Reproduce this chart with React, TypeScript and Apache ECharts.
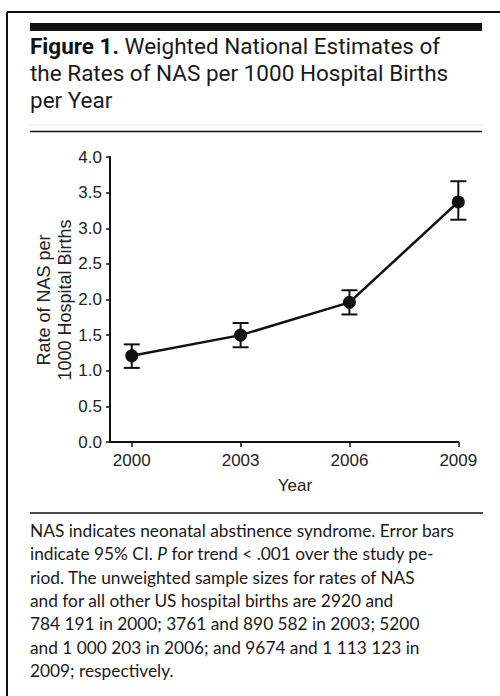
import React, { useEffect, useRef } from "react";
import * as echarts from "echarts";

const years = [2000, 2003, 2006, 2009];
const rates = [1.21, 1.5, 1.96, 3.37];
const ciLow = [1.04, 1.33, 1.79, 3.12];
const ciHigh = [1.37, 1.67, 2.13, 3.66];
const xTicks = [2000, 2003, 2006, 2009];
const yTitleLines = ["Rate of NAS per", "1000 Hospital Births"];

const titleText =
  "{b|Figure 1.} Weighted National Estimates of\nthe Rates of NAS per 1000 Hospital Births\nper Year";
const captionLines = [
  "NAS indicates neonatal abstinence syndrome. Error bars",
  "indicate 95% CI. {i|P} for trend < .001 over the study pe-",
  "riod. The unweighted sample sizes for rates of NAS",
  "and for all other US hospital births are 2920 and",
  "784 191 in 2000; 3761 and 890 582 in 2003; 5200",
  "and 1 000 203 in 2006; and 9674 and 1 113 123 in",
  "2009; respectively.",
];

const titleFont = "Roboto, Lato, sans-serif";
const captionFont = "Lato, 'Open Sans', sans-serif";
const axisFont = "'Liberation Sans', Arial, sans-serif";

export default function App() {
  const ref = useRef<HTMLDivElement>(null);
  useEffect(() => {
    if (!ref.current) return;
    const chart = echarts.init(ref.current, null, { renderer: "svg" });
    const pointData = years.map((y, i) => [y, rates[i]]);
    const errData = years.map((y, i) => [y, ciLow[i], ciHigh[i]]);
    const yTitleX = [44, 65];
    const option: any = {
      animation: false,
      backgroundColor: "#ffffff",
      grid: {
        left: 110,
        right: 41.7,
        top: 157,
        bottom: 254,
        containLabel: false,
        outerBoundsMode: "none",
      },
      xAxis: {
        type: "value",
        min: 1999.4,
        max: 2009,
        axisLine: { show: true, lineStyle: { color: "#111", width: 2 } },
        axisTick: {
          show: true,
          customValues: xTicks,
          length: 5,
          lineStyle: { color: "#111", width: 1.5 },
        },
        axisLabel: {
          customValues: xTicks,
          fontSize: 17,
          color: "#222",
          fontFamily: axisFont,
          margin: 10,
          formatter: (v: number) => String(Math.round(v)),
        },
        splitLine: { show: false },
      },
      yAxis: {
        type: "value",
        min: 0,
        max: 4,
        interval: 0.5,
        axisLine: { show: true, lineStyle: { color: "#111", width: 2 } },
        axisTick: { show: true, length: 4, lineStyle: { color: "#111", width: 1.5 } },
        axisLabel: {
          fontSize: 17,
          color: "#222",
          fontFamily: axisFont,
          margin: 8,
          formatter: (v: number) => v.toFixed(1),
        },
        splitLine: { show: false },
      },
      series: [
        {
          type: "custom",
          data: errData,
          renderItem: (params: any, api: any) => {
            const x = api.value(0);
            const lo = api.coord([x, api.value(1)]);
            const hi = api.coord([x, api.value(2)]);
            const hw = 8;
            const style = { stroke: "#111", lineWidth: 2 };
            return {
              type: "group",
              children: [
                { type: "line", shape: { x1: lo[0], y1: lo[1], x2: hi[0], y2: hi[1] }, style },
                { type: "line", shape: { x1: lo[0] - hw, y1: lo[1], x2: lo[0] + hw, y2: lo[1] }, style },
                { type: "line", shape: { x1: hi[0] - hw, y1: hi[1], x2: hi[0] + hw, y2: hi[1] }, style },
              ],
            };
          },
          z: 2,
        },
        {
          type: "line",
          data: pointData,
          symbol: "circle",
          symbolSize: 13,
          itemStyle: { color: "#111" },
          lineStyle: { color: "#111", width: 2.5 },
          z: 3,
        },
      ],
      graphic: [
        { type: "line", shape: { x1: 7, y1: 12, x2: 500, y2: 12 }, style: { stroke: "#111", lineWidth: 2 } },
        { type: "line", shape: { x1: 7, y1: 12, x2: 7, y2: 696 }, style: { stroke: "#111", lineWidth: 2 } },
        { type: "rect", shape: { x: 30, y: 23, width: 452, height: 8 }, style: { fill: "#111" } },
        {
          type: "text",
          x: 30,
          y: 32,
          style: {
            text: titleText,
            fontSize: 22.5,
            lineHeight: 27,
            fontFamily: titleFont,
            fill: "#1a1a1a",
            verticalAlign: "top",
            align: "left",
            rich: { b: { fontWeight: "bold", fontSize: 22.5, fontFamily: titleFont, fill: "#111" } },
          },
        },
        { type: "line", shape: { x1: 30, y1: 125, x2: 482, y2: 125 }, style: { stroke: "#e4e4e4", lineWidth: 1 } },
        { type: "line", shape: { x1: 30, y1: 131.5, x2: 482, y2: 131.5 }, style: { stroke: "#111", lineWidth: 1.6 } },
        ...yTitleLines.map((t, i) => ({
          type: "text",
          x: yTitleX[i],
          y: 300,
          rotation: Math.PI / 2,
          style: {
            text: t,
            fontSize: 18,
            fontFamily: axisFont,
            fill: "#222",
            align: "center",
            verticalAlign: "middle",
          },
        })),
        {
          type: "text",
          x: 295,
          y: 485,
          style: {
            text: "Year",
            fontSize: 17,
            fontFamily: axisFont,
            fill: "#222",
            align: "center",
            verticalAlign: "middle",
          },
        },
        { type: "line", shape: { x1: 30, y1: 513, x2: 483, y2: 513 }, style: { stroke: "#111", lineWidth: 1.6 } },
        {
          type: "text",
          x: 30,
          y: 519,
          style: {
            text: captionLines.join("\n"),
            fontSize: 17.3,
            lineHeight: 23.3,
            fontFamily: captionFont,
            fill: "#1a1a1a",
            verticalAlign: "top",
            align: "left",
            rich: { i: { fontStyle: "italic", fontSize: 17.3, fontFamily: captionFont, fill: "#1a1a1a" } },
          },
        },
      ],
    };
    chart.setOption(option);
    return () => chart.dispose();
  }, []);
  return (
    <div
      ref={ref}
      style={{ position: "fixed", left: 0, top: 0, width: 500, height: 696, background: "#fff" }}
    />
  );
}
